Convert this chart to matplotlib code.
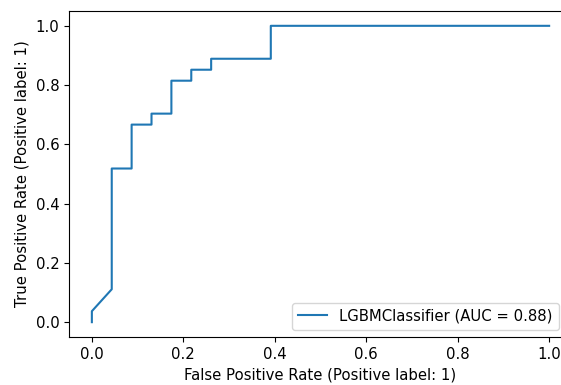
import matplotlib
matplotlib.use("Agg")
import matplotlib.pyplot as plt

# ROC curve points (23 negatives, 27 positives)
fpr = [0.0, 0.0, 1/23, 1/23, 2/23, 2/23, 3/23, 3/23, 4/23, 4/23,
       5/23, 5/23, 6/23, 6/23, 9/23, 9/23, 1.0]
tpr = [0.0, 1/27, 3/27, 14/27, 14/27, 18/27, 18/27, 19/27, 19/27, 22/27,
       22/27, 23/27, 23/27, 24/27, 24/27, 1.0, 1.0]
label = "LGBMClassifier (AUC = 0.88)"

plt.rcParams["font.size"] = 10.7

W, H = 561, 385
fig = plt.figure(figsize=(W / 100, H / 100), dpi=100)
# axes box in pixels: left 69, right 572 (cut off by the image edge), top 11, bottom 337
ax = fig.add_axes([69 / W, (H - 337) / H, (572 - 69) / W, (337 - 11) / H])

ax.plot(fpr, tpr, color="#1f77b4", lw=1.5, label=label)
ax.set_xlim(-0.05, 1.05)
ax.set_ylim(-0.05, 1.05)
ax.set_xticks([0.0, 0.2, 0.4, 0.6, 0.8, 1.0])
ax.set_yticks([0.0, 0.2, 0.4, 0.6, 0.8, 1.0])
ax.set_xlabel("False Positive Rate (Positive label: 1)")
ax.set_ylabel("True Positive Rate (Positive label: 1)")
ax.legend(loc="lower right", bbox_to_anchor=((566 - 69) / (572 - 69), 0))

fig.savefig("out.png", dpi=100)
